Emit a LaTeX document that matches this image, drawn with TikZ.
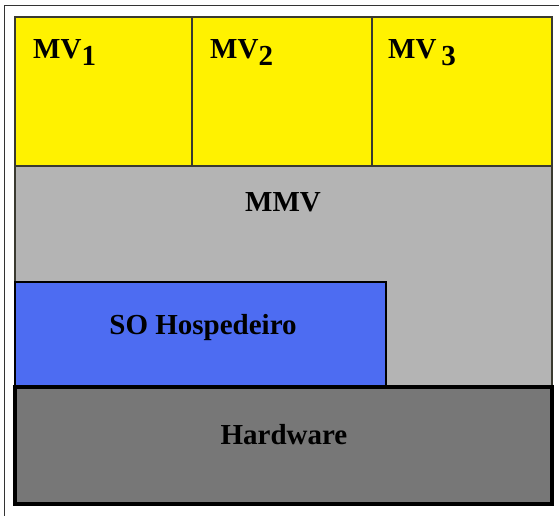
\documentclass[tikz,border=0pt]{standalone}
\usepackage{fontspec}
\setmainfont{Liberation Serif}
\definecolor{mvyellow}{HTML}{FFF200}
\definecolor{mmvgray}{HTML}{B4B4B4}
\definecolor{soblue}{HTML}{4D6CF2}
\definecolor{hwgray}{HTML}{777777}
\definecolor{edgedark}{HTML}{3A3A30}
\newcommand{\lowd}[1]{\raisebox{-7pt}{#1}}
\begin{document}
\begin{tikzpicture}[x=1pt,y=-1pt,
  lbl/.style={inner sep=0pt,font=\fontsize{29}{30}\selectfont\bfseries,text=black},
  mvbox/.style={fill=mvyellow,draw=edgedark,line width=1.6pt},
  mmvbox/.style={fill=mmvgray,draw=edgedark,line width=1.6pt},
  sobox/.style={fill=soblue,draw=black,line width=2.6pt},
  hwbox/.style={fill=hwgray,draw=black,line width=3.6pt},
  frameline/.style={draw=black!80,line width=1pt}]
\useasboundingbox (0,0) rectangle (559,516);
\fill[white] (0,0) rectangle (559,516);
% outer frame
\draw[frameline] (4,516) -- (4,6) -- (559,6);
% layers
\draw[mmvbox] (15,166) rectangle (552,386);
\draw[mvbox] (15,17) rectangle (192,166);
\draw[mvbox] (192,17) rectangle (372,166);
\draw[mvbox] (372,17) rectangle (552,166);
\draw[sobox] (15,282) rectangle (386,386);
\draw[hwbox] (15,387) rectangle (552,504);
% labels
\node[lbl,anchor=base west] (mv1) at (33,59) {MV\lowd{1}};
\node[lbl,anchor=base west] (mv2) at (210,59) {MV\lowd{2}};
\node[lbl,anchor=base west] (mv3) at (388,59) {MV\,\lowd{3}};
\node[lbl,anchor=base] (mmv) at (283,211) {MMV};
\node[lbl,anchor=base] (so) at (203,334) {SO Hospedeiro};
\node[lbl,anchor=base] (hw) at (284,444) {Hardware};
\end{tikzpicture}
\end{document}
